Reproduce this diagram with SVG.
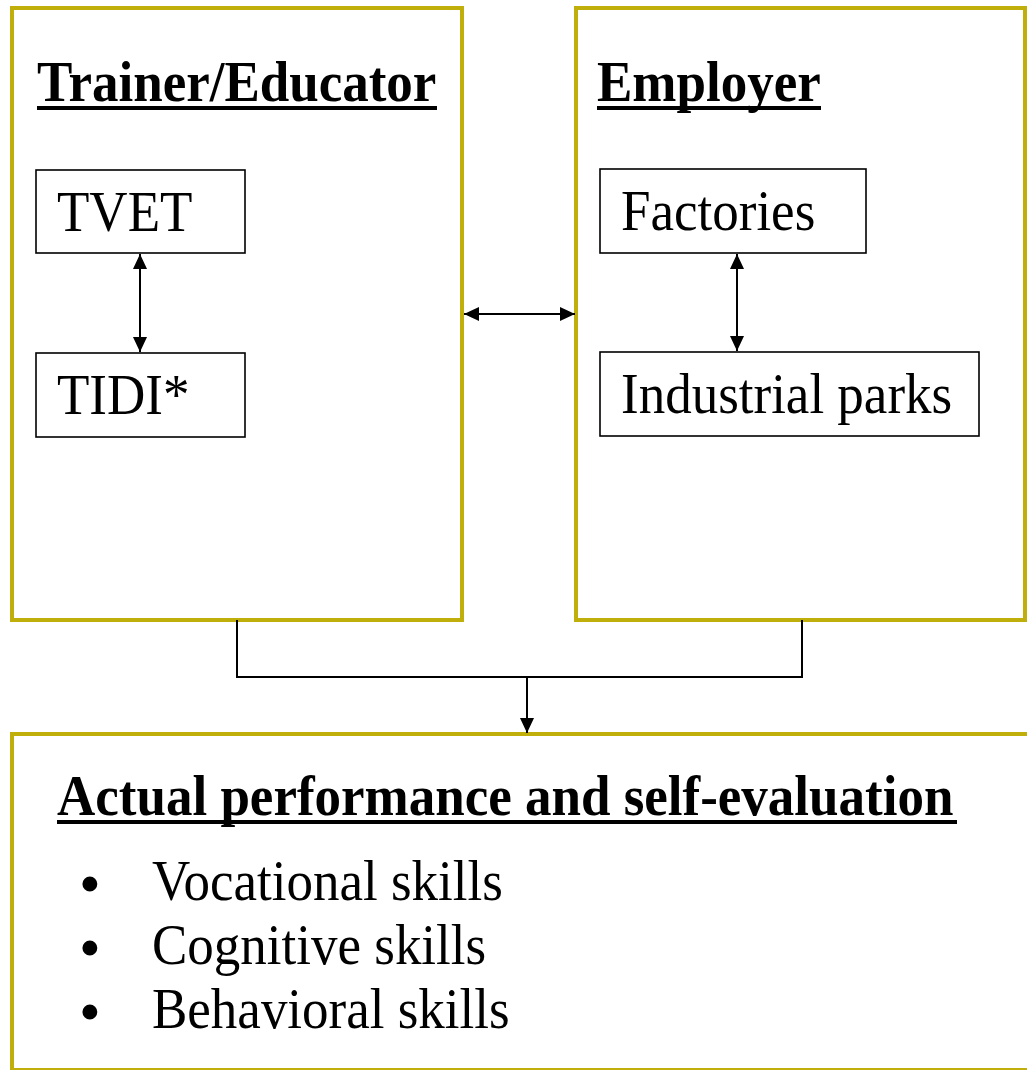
<svg xmlns="http://www.w3.org/2000/svg" width="1027" height="1070" viewBox="0 0 1027 1070">
<style>
.outer{fill:none;stroke:#C0AE0B;stroke-width:4}
.inner{fill:none;stroke:#000;stroke-width:1.6}
.head{font-family:"Liberation Serif","Times New Roman",serif;font-weight:bold;font-size:53px;fill:#000}
.lbl{font-family:"Liberation Serif","Times New Roman",serif;font-size:53px;fill:#000}
.bul{font-family:"Liberation Serif","Times New Roman",serif;font-size:55px;font-weight:bold;fill:#000;text-anchor:middle}
.ul{fill:#000}
.con{fill:none;stroke:#000;stroke-width:2}
</style>
<defs>
<marker id="ah" viewBox="0 0 15 14" refX="15" refY="7" markerWidth="15" markerHeight="14" markerUnits="userSpaceOnUse" orient="auto-start-reverse">
<path d="M0,0 L15,7 L0,14 z" fill="#000"/>
</marker>
</defs>
<rect width="1027" height="1070" fill="#fff"/>
<g id="trainer">
<rect class="outer" x="12" y="8" width="450" height="612"/>
<text class="head" transform="translate(37,101) scale(1,1.06)">Trainer/Educator</text>
<rect class="ul" x="37" y="106" width="400" height="4"/>
</g>
<g id="tvet">
<rect class="inner" x="36" y="170" width="209" height="83"/>
<text class="lbl" transform="translate(57,231) scale(1,1.06)">TVET</text>
</g>
<g id="tidi">
<rect class="inner" x="36" y="353" width="209" height="84"/>
<text class="lbl" transform="translate(57,414) scale(1,1.06)">TIDI*</text>
</g>
<g id="employer">
<rect class="outer" x="576" y="8" width="449" height="612"/>
<text class="head" transform="translate(597,101) scale(1,1.06)">Employer</text>
<rect class="ul" x="597" y="106" width="224" height="4"/>
</g>
<g id="factories">
<rect class="inner" x="600" y="169" width="266" height="84"/>
<text class="lbl" transform="translate(621,230) scale(1,1.06)">Factories</text>
</g>
<g id="parks">
<rect class="inner" x="600" y="352" width="379" height="84"/>
<text class="lbl" transform="translate(621,413) scale(1,1.06)">Industrial parks</text>
</g>
<g id="performance">
<rect class="outer" x="12" y="734" width="1030" height="336"/>
<text class="head" transform="translate(57,815) scale(1,1.06)">Actual performance and self-evaluation</text>
<rect class="ul" x="57" y="820" width="900" height="4"/>
<text class="bul" x="90" y="902">•</text>
<text class="lbl" transform="translate(152,900) scale(1,1.07)">Vocational skills</text>
<text class="bul" x="90" y="966">•</text>
<text class="lbl" transform="translate(152,964) scale(1,1.07)">Cognitive skills</text>
<text class="bul" x="90" y="1030">•</text>
<text class="lbl" transform="translate(152,1028) scale(1,1.07)">Behavioral skills</text>
</g>
<g id="connectors">
<line class="con" x1="140" y1="254" x2="140" y2="352" marker-start="url(#ah)" marker-end="url(#ah)"/>
<line class="con" x1="737" y1="254" x2="737" y2="351" marker-start="url(#ah)" marker-end="url(#ah)"/>
<line class="con" x1="464" y1="314" x2="575" y2="314" marker-start="url(#ah)" marker-end="url(#ah)"/>
<path class="con" d="M237,620 V677 H802 V620"/>
<line class="con" x1="527" y1="677" x2="527" y2="733" marker-end="url(#ah)"/>
</g>
</svg>
